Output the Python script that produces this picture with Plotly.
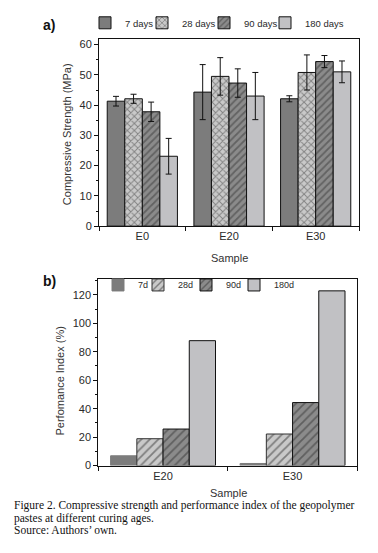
import plotly.graph_objects as go

W, H = 378, 553

# ---------------- data ----------------
samples_a = ["E0", "E20", "E30"]
ages_a = ["7 days", "28 days", "90 days", "180 days"]
strength_7 = [41.3, 44.3, 42.1]
strength_28 = [42.1, 49.5, 50.8]
strength_90 = [37.8, 47.3, 54.4]
strength_180 = [23.1, 43.0, 51.0]
err_7 = [1.6, 9.1, 1.0]
err_28 = [1.5, 6.2, 5.8]
err_90 = [3.2, 4.7, 2.0]
err_180 = [5.9, 7.8, 3.6]

samples_b = ["E20", "E30"]
ages_b = ["7d", "28d", "90d", "180d"]
pi_7 = [6.9, 1.5]
pi_28 = [18.9, 22.2]
pi_90 = [25.7, 44.3]
pi_180 = [87.8, 122.8]

y_ticks_a = [0, 10, 20, 30, 40, 50, 60]
y_ticks_b = [0, 20, 40, 60, 80, 100, 120]

# ---------------- styles ----------------
C7, C28, C90, C180 = "#7c7c7c", "#c9c9c9", "#8b8b8b", "#c1c1c4"
FONT = "Liberation Sans, Arial, sans-serif"
TXT = "#2a2a2a"
# legend entry placement (pixels from left) for each panel
LEG_A_X = [77, 134, 196, 257]
LEG_B_X = [90, 130, 178, 226]
LEG_A_Y, LEG_B_Y = 13, 279


def px_x(p):
    return p / W


def px_y(p):
    return 1 - p / H


fig = go.Figure()
legends = {}

series_a = [
    (ages_a[0], strength_7, err_7, C7, None),
    (ages_a[1], strength_28, err_28, C28, "x"),
    (ages_a[2], strength_90, err_90, C90, "/"),
    (ages_a[3], strength_180, err_180, C180, None),
]
for i, (name, vals, err, col, pat) in enumerate(series_a):
    marker = dict(color=col, line=dict(color="#111111", width=1))
    if pat:
        marker["pattern"] = dict(shape=pat, fgcolor="#3a3a3a", bgcolor=col,
                                 size=5, solidity=0.35)
    lg = "legend" if i == 0 else f"legend{i + 1}"
    legends[lg] = dict(x=px_x(LEG_A_X[i]), y=px_y(LEG_A_Y), size=9.5)
    fig.add_trace(go.Bar(
        x=samples_a, y=vals, name=name, marker=marker,
        error_y=dict(type="data", array=err, color="#111111", thickness=1, width=3),
        xaxis="x", yaxis="y", legend=lg,
    ))

series_b = [
    (ages_b[0], pi_7, C7, None, C7),
    (ages_b[1], pi_28, C28, "/", "#333333"),
    (ages_b[2], pi_90, C90, "/", "#111111"),
    (ages_b[3], pi_180, C180, None, "#111111"),
]
for i, (name, vals, col, pat, lc) in enumerate(series_b):
    marker = dict(color=col, line=dict(color=lc, width=1))
    if pat:
        marker["pattern"] = dict(shape=pat, fgcolor="#333333", bgcolor=col,
                                 size=6, solidity=0.3)
    lg = f"legend{i + 5}"
    legends[lg] = dict(x=px_x(LEG_B_X[i]), y=px_y(LEG_B_Y), size=9)
    fig.add_trace(go.Bar(
        x=samples_b, y=vals, name=name, marker=marker,
        xaxis="x2", yaxis="y2", legend=lg,
    ))

axis_common = dict(
    showline=True, linecolor="#111111", linewidth=1, mirror=True,
    showgrid=False, zeroline=False,
    tickfont=dict(family=FONT, size=11, color=TXT),
    ticks="outside", tickcolor="#111111", ticklen=4,
)

fig.update_layout(
    width=W, height=H,
    margin=dict(l=0, r=0, t=0, b=0),
    paper_bgcolor="white", plot_bgcolor="white",
    barmode="group", bargap=0.19, bargroupgap=0,
    font=dict(family=FONT, size=11, color=TXT),
    xaxis=dict(domain=[px_x(91), px_x(351)], anchor="y",
               tickson="boundaries", **axis_common),
    yaxis=dict(domain=[px_y(219.3), px_y(29)], anchor="x", range=[0, 62],
               tickvals=y_ticks_a,
               minor=dict(dtick=5, ticks="outside", ticklen=2, tickcolor="#111111"),
               **axis_common),
    xaxis2=dict(domain=[px_x(90.3), px_x(349.3)], anchor="y2",
                tickson="boundaries", **axis_common),
    yaxis2=dict(domain=[px_y(462.3), px_y(272.7)], anchor="x2", range=[0, 131.3],
                tickvals=y_ticks_b,
                minor=dict(dtick=10, ticks="outside", ticklen=2, tickcolor="#111111"),
                **axis_common),
    showlegend=True,
)
for lg, spec in legends.items():
    fig.update_layout({lg: dict(orientation="h", x=spec["x"], y=spec["y"],
                                xanchor="left", yanchor="middle",
                                font=dict(family=FONT, size=spec["size"], color=TXT),
                                itemwidth=30, bgcolor="rgba(0,0,0,0)")})

ann = []
ann.append(dict(text="<b>a)</b>", x=px_x(33), y=px_y(15), xref="paper", yref="paper",
                showarrow=False, xanchor="left", yanchor="middle",
                font=dict(family=FONT, size=14, color="#111111")))
ann.append(dict(text="<b>b)</b>", x=px_x(33), y=px_y(275), xref="paper", yref="paper",
                showarrow=False, xanchor="left", yanchor="middle",
                font=dict(family=FONT, size=14, color="#111111")))
ann.append(dict(text="Compressive Strength (MPa)", x=px_x(59), y=px_y(126),
                xref="paper", yref="paper", showarrow=False, textangle=-90,
                xanchor="center", yanchor="middle",
                font=dict(family=FONT, size=11, color="#333333")))
ann.append(dict(text="Perfomance Index (%)", x=px_x(52), y=px_y(377),
                xref="paper", yref="paper", showarrow=False, textangle=-90,
                xanchor="center", yanchor="middle",
                font=dict(family=FONT, size=11, color="#333333")))
ann.append(dict(text="Sample", x=px_x(221), y=px_y(252), xref="paper", yref="paper",
                showarrow=False, xanchor="center", yanchor="middle",
                font=dict(family=FONT, size=11, color="#333333")))
ann.append(dict(text="Sample", x=px_x(220), y=px_y(490), xref="paper", yref="paper",
                showarrow=False, xanchor="center", yanchor="middle",
                font=dict(family=FONT, size=11, color="#333333")))

caption = [
    "Figure 2. Compressive strength and performance index of the geopolymer",
    "pastes at different curing ages.",
    "Source: Authors\u2019 own.",
]
for i, line in enumerate(caption):
    ann.append(dict(text=line, x=px_x(4), y=px_y(503 + 12.5 * i), xref="paper",
                    yref="paper", showarrow=False, xanchor="left", yanchor="middle",
                    font=dict(family="Liberation Serif, Times New Roman, serif",
                              size=11.5, color="#111111")))
fig.update_layout(annotations=ann)

fig.write_html("out.html")
